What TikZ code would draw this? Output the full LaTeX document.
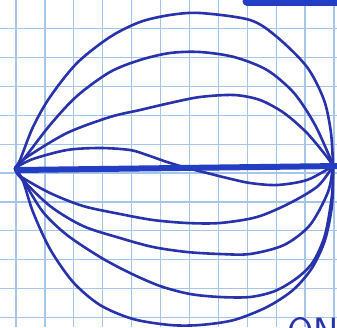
\documentclass[tikz,border=0pt]{standalone}
\definecolor{inkc}{RGB}{40,50,170}
\definecolor{inkb}{RGB}{35,62,195}
\definecolor{gridc}{RGB}{165,198,232}
\begin{document}
\begin{tikzpicture}[x=1pt,y=-1pt,
  ink/.style={draw=inkc, line width=2.6pt, line cap=round, line join=round},
  gridline/.style={draw=gridc, line width=1.2pt}]
\useasboundingbox (0,0) rectangle (337,327);
\clip (0,0) rectangle (337,327);
\fill[white] (0,0) rectangle (337,327);
\foreach \i in {0,...,11} \draw[gridline] ({16+28.9*\i},0) -- ({16+28.9*\i},327);
\foreach \j in {0,...,11} \draw[gridline] (0,{-0.4+28.9*\j}) -- (337,{-0.4+28.9*\j});
\coordinate (A) at (15,168);
\coordinate (B) at (333,166);
\coordinate (E) at (340,166);
\coordinate (T1) at (247,1);
\coordinate (T2) at (345,1);
% upper curves
\draw[ink] plot[smooth] coordinates {(A) (20,160) (33,127) (50,97) (77,63) (110,37) (140,22) (170,15) (200,13) (250,20) (277,37) (307,67) (324,100) (331,133) (B)};
\draw[ink] plot[smooth] coordinates {(A) (23,160) (50,125) (77,96) (110,72) (140,60) (170,53) (200,52) (234,57) (267,70) (294,93) (314,123) (328,153) (B)};
\draw[ink] plot[smooth] coordinates {(A) (27,157) (67,133) (110,117) (140,110) (170,103) (200,97) (234,95) (260,100) (284,113) (307,133) (327,157) (B)};
\draw[ink] plot[smooth] coordinates {(A) (33,159) (67,150) (100,148) (130,150) (147,155) (167,162) (187,168) (207,173) (227,178) (250,183) (277,185) (307,180) (B)};
% lower curves
\draw[ink] plot[smooth] coordinates {(A) (20,176) (50,193) (83,206) (120,214) (153,220) (187,223) (220,223) (257,217) (290,203) (318,186) (B)};
\draw[ink] plot[smooth] coordinates {(A) (20,177) (50,206) (83,226) (120,238) (153,247) (187,252) (220,254) (250,254) (284,245) (310,225) (328,192) (B)};
\draw[ink] plot[smooth] coordinates {(A) (23,180) (43,212) (67,235) (100,257) (130,273) (160,286) (190,294) (220,297) (250,297) (275,291) (297,278) (313,262) (325,235) (332,195) (B)};
\draw[ink] plot[smooth] coordinates {(A) (23,181) (33,212) (50,249) (73,282) (100,305) (133,319) (170,325) (200,325) (234,320) (267,307) (293,290) (312,268) (325,240) (332,205) (B)};
% thick lines
\draw[draw=inkb, line width=6pt, line cap=round] (A) ++(3,2) -- (E);
\draw[draw=inkb, line width=9pt, line cap=round] (T1) -- (T2);
\node[anchor=north west, inner sep=0pt, text=inkc, font=\sffamily\fontsize{38}{38}\selectfont] (lbl) at (287,317) {ON};
\end{tikzpicture}
\end{document}
